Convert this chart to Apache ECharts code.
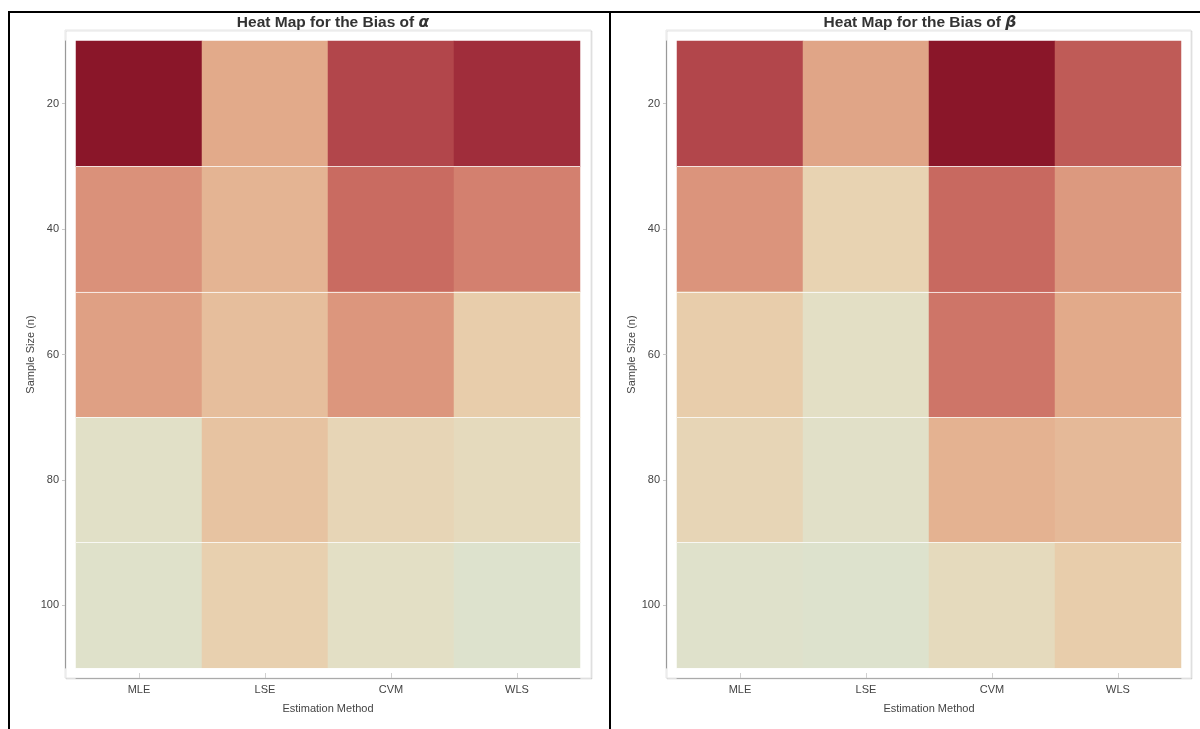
<!DOCTYPE html>
<html>
<head>
<meta charset="utf-8">
<script src="https://cdn.jsdelivr.net/npm/echarts@6/dist/echarts.min.js"></script>
<style>
  html, body { margin: 0; padding: 0; background: #ffffff; }
  #chart { width: 1200px; height: 729px; }
</style>
</head>
<body>
<div id="chart"></div>
<script>
// Estimation methods (columns) and sample sizes (rows)
const methods = ['MLE', 'LSE', 'CVM', 'WLS'];
const sampleSizes = ['20', '40', '60', '80', '100'];

// Bias of alpha, one row per sample size, columns in method order
const biasAlpha = [
  [1.00, 0.40, 0.75, 0.86],
  [0.50, 0.36, 0.61, 0.55],
  [0.44, 0.32, 0.48, 0.24],
  [0.07, 0.30, 0.18, 0.14],
  [0.04, 0.22, 0.10, 0.00]
];

// Bias of beta
const biasBeta = [
  [0.75, 0.42, 1.00, 0.67],
  [0.49, 0.20, 0.62, 0.47],
  [0.24, 0.10, 0.58, 0.40],
  [0.18, 0.06, 0.37, 0.34],
  [0.03, 0.00, 0.14, 0.24]
];

// Colour ramp from low bias to high bias
const ramp = ['#dde2cd', '#e3dfc5', '#e8d3b2', '#e7c3a1', '#e2aa8a', '#da917a',
              '#cb6e63', '#ba5352', '#a93843', '#9a2536', '#8a1629'];

function toCells(matrix) {
  const out = [];
  matrix.forEach((row, r) => row.forEach((v, c) => out.push([c, r, v])));
  return out;
}
function flatMin(m) { return Math.min.apply(null, m.flat()); }
function flatMax(m) { return Math.max.apply(null, m.flat()); }

const FONT = 'Liberation Sans, Arial, sans-serif';
const labelColor = '#444';

function frameGrid(left, width) {
  return {
    left: left, top: 30, width: width, height: 648,
    show: true, backgroundColor: '#ffffff',
    borderColor: '#e6e6e6', borderWidth: 1,
    shadowColor: 'rgba(0,0,0,0.10)', shadowBlur: 0, shadowOffsetX: 1, shadowOffsetY: 1
  };
}
function cellGrid(left) {
  return { left: left, top: 41, width: 504, height: 627, show: false };
}
function hiddenAxis(gi) {
  return { type: 'value', gridIndex: gi, show: false };
}
function methodAxis(gi) {
  return {
    type: 'category', gridIndex: gi, data: methods, position: 'bottom', offset: 10,
    name: 'Estimation Method', nameLocation: 'middle', nameGap: 25,
    nameTextStyle: { color: labelColor, fontSize: 11, fontFamily: FONT },
    axisLine: { show: true, lineStyle: { color: '#aaaaaa', width: 1 } },
    axisTick: { show: true, inside: true, alignWithLabel: true, length: 5, lineStyle: { color: '#d0d0d0' } },
    axisLabel: { color: labelColor, fontSize: 11, fontFamily: FONT, margin: 6 },
    splitLine: { show: false }
  };
}
function sizeAxis(gi) {
  return {
    type: 'category', gridIndex: gi, data: sampleSizes, inverse: true, offset: 11, z: 3,
    name: 'Sample Size (n)', nameLocation: 'middle', nameGap: 28,
    nameTextStyle: { color: labelColor, fontSize: 11, fontFamily: FONT },
    axisLine: { show: true, lineStyle: { color: '#999999', width: 1 } },
    axisTick: { show: true, alignWithLabel: true, length: 3, lineStyle: { color: '#c8c8c8' } },
    axisLabel: { color: labelColor, fontSize: 11, fontFamily: FONT, margin: 6 },
    splitLine: { show: true, interval: (i) => i > 0, lineStyle: { color: 'rgba(255,255,255,0.75)', width: 1 } }
  };
}
function titleFor(x, greek) {
  return {
    text: '{t|Heat Map for the Bias of }{g|' + greek + '}',
    left: x, top: 10, textAlign: 'center',
    textStyle: {
      rich: {
        t: { fontSize: 15.5, fontWeight: 'bold', color: '#333', fontFamily: FONT },
        g: { fontSize: 15.5, fontWeight: 'bold', fontStyle: 'italic', color: '#333', fontFamily: 'DejaVu Sans, sans-serif' }
      }
    }
  };
}

const chart = echarts.init(document.getElementById('chart'), null, { renderer: 'canvas' });

chart.setOption({
  backgroundColor: '#ffffff',
  animation: false,
  title: [titleFor(328, 'α'), titleFor(915, 'β')],
  grid: [frameGrid(65, 526), cellGrid(76), frameGrid(666, 525), cellGrid(677)],
  xAxis: [hiddenAxis(0), methodAxis(1), hiddenAxis(2), methodAxis(3)],
  yAxis: [hiddenAxis(0), sizeAxis(1), hiddenAxis(2), sizeAxis(3)],
  visualMap: [
    { show: false, seriesIndex: 0, min: flatMin(biasAlpha), max: flatMax(biasAlpha), inRange: { color: ramp } },
    { show: false, seriesIndex: 1, min: flatMin(biasBeta), max: flatMax(biasBeta), inRange: { color: ramp } }
  ],
  series: [
    { name: 'Bias of α', type: 'heatmap', xAxisIndex: 1, yAxisIndex: 1, data: toCells(biasAlpha) },
    { name: 'Bias of β', type: 'heatmap', xAxisIndex: 3, yAxisIndex: 3, data: toCells(biasBeta) }
  ],
  graphic: [
    // table rules framing the two panels
    { type: 'line', z: 10, shape: { x1: 8, y1: 12, x2: 1200, y2: 12 }, style: { stroke: '#000', lineWidth: 2 } },
    { type: 'line', z: 10, shape: { x1: 9, y1: 11, x2: 9, y2: 729 }, style: { stroke: '#000', lineWidth: 2 } },
    { type: 'line', z: 10, shape: { x1: 610, y1: 11, x2: 610, y2: 729 }, style: { stroke: '#000', lineWidth: 2 } }
  ]
});
</script>
</body>
</html>
